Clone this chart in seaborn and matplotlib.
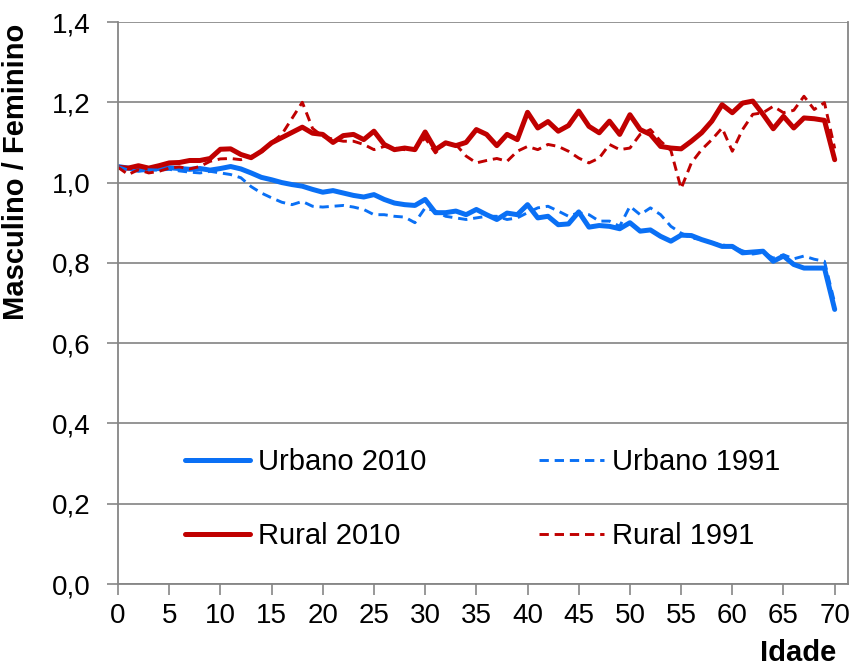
import matplotlib
matplotlib.use("Agg")
import matplotlib.pyplot as plt
import numpy as np
import pandas as pd
import seaborn as sns

# ages 0..70
idade = list(range(0, 71))

urbano_2010 = [1.040, 1.036, 1.031, 1.033, 1.035, 1.037, 1.035, 1.033, 1.035, 1.031,
               1.035, 1.040, 1.034, 1.024, 1.013, 1.007, 1.000, 0.995, 0.991, 0.983,
               0.976, 0.980, 0.974, 0.968, 0.964, 0.970, 0.958, 0.949, 0.945, 0.943,
               0.958, 0.925, 0.925, 0.929, 0.920, 0.933, 0.920, 0.908, 0.924, 0.920,
               0.945, 0.912, 0.916, 0.895, 0.897, 0.927, 0.889, 0.893, 0.891, 0.885,
               0.900, 0.879, 0.882, 0.866, 0.854, 0.869, 0.868, 0.858, 0.850, 0.841,
               0.841, 0.825, 0.827, 0.829, 0.804, 0.817, 0.796, 0.787, 0.787, 0.787,
               0.684]

urbano_1991 = [1.040, 1.031, 1.029, 1.032, 1.031, 1.033, 1.029, 1.026, 1.024, 1.028,
               1.024, 1.020, 1.012, 0.990, 0.974, 0.962, 0.951, 0.945, 0.953, 0.941,
               0.939, 0.941, 0.943, 0.939, 0.933, 0.920, 0.920, 0.916, 0.914, 0.900,
               0.937, 0.929, 0.916, 0.912, 0.908, 0.912, 0.916, 0.916, 0.908, 0.912,
               0.925, 0.937, 0.941, 0.929, 0.916, 0.925, 0.920, 0.904, 0.904, 0.891,
               0.941, 0.920, 0.937, 0.920, 0.891, 0.874, 0.862, 0.858, 0.850, 0.845,
               0.840, 0.830, 0.822, 0.826, 0.812, 0.820, 0.810, 0.817, 0.809, 0.804,
               0.700]

rural_2010 = [1.038, 1.036, 1.042, 1.036, 1.042, 1.049, 1.050, 1.055, 1.055, 1.060,
              1.083, 1.084, 1.070, 1.062, 1.078, 1.099, 1.112, 1.125, 1.138, 1.123,
              1.120, 1.100, 1.117, 1.120, 1.107, 1.128, 1.095, 1.082, 1.086, 1.082,
              1.126, 1.082, 1.099, 1.092, 1.100, 1.132, 1.120, 1.092, 1.120, 1.107,
              1.175, 1.136, 1.152, 1.128, 1.142, 1.178, 1.140, 1.124, 1.153, 1.120,
              1.169, 1.132, 1.120, 1.090, 1.086, 1.084, 1.103, 1.124, 1.153, 1.194,
              1.174, 1.198, 1.203, 1.170, 1.134, 1.165, 1.136, 1.161, 1.159, 1.155,
              1.057]

rural_1991 = [1.038, 1.020, 1.032, 1.024, 1.028, 1.036, 1.039, 1.034, 1.040, 1.053,
              1.059, 1.060, 1.057, 1.065, 1.075, 1.100, 1.120, 1.160, 1.200, 1.135,
              1.115, 1.108, 1.103, 1.103, 1.095, 1.082, 1.090, 1.086, 1.082, 1.085,
              1.111, 1.074, 1.099, 1.095, 1.066, 1.049, 1.055, 1.060, 1.053, 1.078,
              1.090, 1.082, 1.095, 1.090, 1.078, 1.061, 1.049, 1.061, 1.095, 1.082,
              1.086, 1.120, 1.132, 1.103, 1.080, 0.985, 1.049, 1.082, 1.107, 1.136,
              1.078, 1.132, 1.170, 1.174, 1.190, 1.174, 1.180, 1.215, 1.182, 1.199,
              1.085]

y_ticks = [0.0, 0.2, 0.4, 0.6, 0.8, 1.0, 1.2, 1.4]
y_tick_labels = ["0,0", "0,2", "0,4", "0,6", "0,8", "1,0", "1,2", "1,4"]
x_ticks = list(range(0, 71, 5))

azul = "#0A70F5"
vermelho = "#C00000"

sns.set_theme(style="white")
plt.rcParams['font.family'] = ['Liberation Sans', 'DejaVu Sans']
plt.rcParams['text.color'] = 'black'
plt.rcParams['xtick.color'] = 'black'
plt.rcParams['ytick.color'] = 'black'
plt.rcParams['axes.labelcolor'] = 'black'

fig = plt.figure(figsize=(8.56, 6.68), dpi=100)
ax = fig.add_axes([118 / 856, 1 - 584 / 668, (848 - 118) / 856, (584 - 22) / 668])

dash = (0, (3.2, 2.0))
sns.lineplot(x=idade, y=urbano_2010, ax=ax, color=azul, linewidth=3.6, label="Urbano 2010")
sns.lineplot(x=idade, y=rural_2010, ax=ax, color=vermelho, linewidth=3.6, label="Rural 2010")
sns.lineplot(x=idade, y=urbano_1991, ax=ax, color=azul, linewidth=2.1, linestyle=dash, label="Urbano 1991")
sns.lineplot(x=idade, y=rural_1991, ax=ax, color=vermelho, linewidth=2.1, linestyle=dash, label="Rural 1991")

ax.set_xlim(0, 71.3)
ax.set_ylim(0, 1.4)
ax.set_xticks(x_ticks)
ax.set_xticklabels([str(v) for v in x_ticks], fontsize=20)
ax.set_yticks(y_ticks)
ax.set_yticklabels(y_tick_labels, fontsize=20)
ax.tick_params(axis="both", direction="out", length=8, width=1.2, color="#868686", bottom=True, left=True)
ax.tick_params(axis="y", pad=12)
ax.tick_params(axis="x", pad=6)
ax.yaxis.grid(True, color="#8c8c8c", linewidth=1.3)
ax.xaxis.grid(False)
for s in ax.spines.values():
    s.set_color("#868686")
    s.set_linewidth(1.3)
ax.spines["top"].set_visible(False)

ax.set_ylabel("Masculino / Feminino", fontsize=21, fontweight="bold")
ax.yaxis.set_label_coords(-0.121, 0.733)
ax.set_xlabel("")
fig.text(836 / 856, 1 - 653 / 668, "Idade", fontsize=21, fontweight="bold",
         ha="right", va="center")

ax.legend(loc="upper left", bbox_to_anchor=(185 / 856, 1 - 448 / 668), bbox_transform=fig.transFigure,
          ncol=2, frameon=False, fontsize=21, handlelength=2.23, handletextpad=0.27,
          columnspacing=3.87, labelspacing=1.57, borderpad=0, borderaxespad=0)

fig.savefig("out.png", dpi=100)
